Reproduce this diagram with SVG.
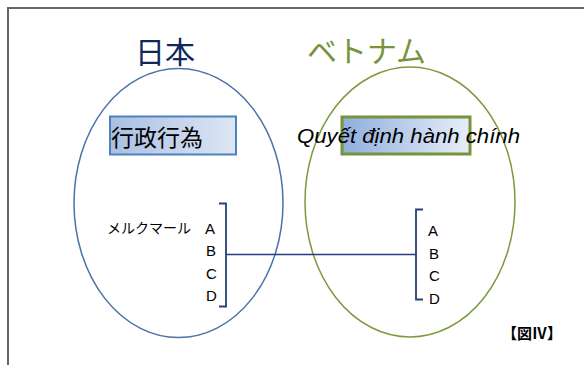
<svg xmlns="http://www.w3.org/2000/svg" width="584" height="365" viewBox="0 0 584 365">
<style>
.jp{font-family:"Noto Sans CJK JP","Noto Sans CJK SC",sans-serif}
.lt{font-family:"Liberation Sans",Arial,sans-serif;font-size:15px;fill:#000}
.br{fill:none;stroke:#243F7A;stroke-width:1.8}
</style>
<defs>
<linearGradient id="gL" x1="0" y1="0" x2="1" y2="0">
<stop offset="0" stop-color="#A9C0E3"/><stop offset="1" stop-color="#DDE6F4"/>
</linearGradient>
<linearGradient id="gR" x1="0" y1="0" x2="1" y2="0">
<stop offset="0" stop-color="#8FAEDD"/><stop offset="1" stop-color="#E8EEF8"/>
</linearGradient>
</defs>
<rect width="584" height="365" fill="#fff"/>
<rect x="8" y="8" width="700" height="500" fill="none" stroke="#666" stroke-width="2"/>
<g id="japan">
<ellipse cx="178.5" cy="203" rx="104.5" ry="134.5" fill="none" stroke="#4A72A8" stroke-width="1.5"/>
<text class="jp" x="135" y="63" font-size="30" fill="#10285A">日本</text>
</g>
<g id="vietnam">
<ellipse cx="410" cy="202" rx="105" ry="135" fill="none" stroke="#7B9A3E" stroke-width="1.5"/>
<text class="jp" x="307" y="62" font-size="30" fill="#77933C">ベトナム</text>
</g>
<g id="box-jp">
<rect x="110" y="116.5" width="126" height="38" fill="url(#gL)" stroke="#4F81BD" stroke-width="2"/>
<text class="jp" x="111" y="146" font-size="23" fill="#000">行政行為</text>
</g>
<g id="box-vn">
<rect x="342" y="117" width="128" height="37" fill="url(#gR)" stroke="#77933C" stroke-width="3"/>
<text x="297" y="143" font-family="'Liberation Sans',Arial,sans-serif" font-style="italic" font-size="20" textLength="223" lengthAdjust="spacingAndGlyphs" fill="#000">Quyết định hành chính</text>
</g>
<g id="merkmal">
<text class="jp" x="107" y="233" font-size="14" fill="#000">メルクマール</text>
<text class="lt" x="205" y="234">A</text>
<text class="lt" x="206" y="256">B</text>
<text class="lt" x="206" y="279">C</text>
<text class="lt" x="206" y="301">D</text>
</g>
<g id="abcd-vn">
<text class="lt" x="428" y="236">A</text>
<text class="lt" x="429" y="259">B</text>
<text class="lt" x="429" y="281">C</text>
<text class="lt" x="429" y="304">D</text>
</g>
<g id="connectors">
<path class="br" d="M219,203.5 H226 V306.5 H219"/>
<path class="br" d="M423,209.5 H416 V299.5 H423"/>
<line x1="226" y1="254.5" x2="416" y2="254.5" stroke="#243F7A" stroke-width="1.5"/>
</g>
<g id="label">
<text class="jp" x="502" y="339" font-size="15" font-weight="bold" fill="#000">【図Ⅳ】</text>
</g>
</svg>
